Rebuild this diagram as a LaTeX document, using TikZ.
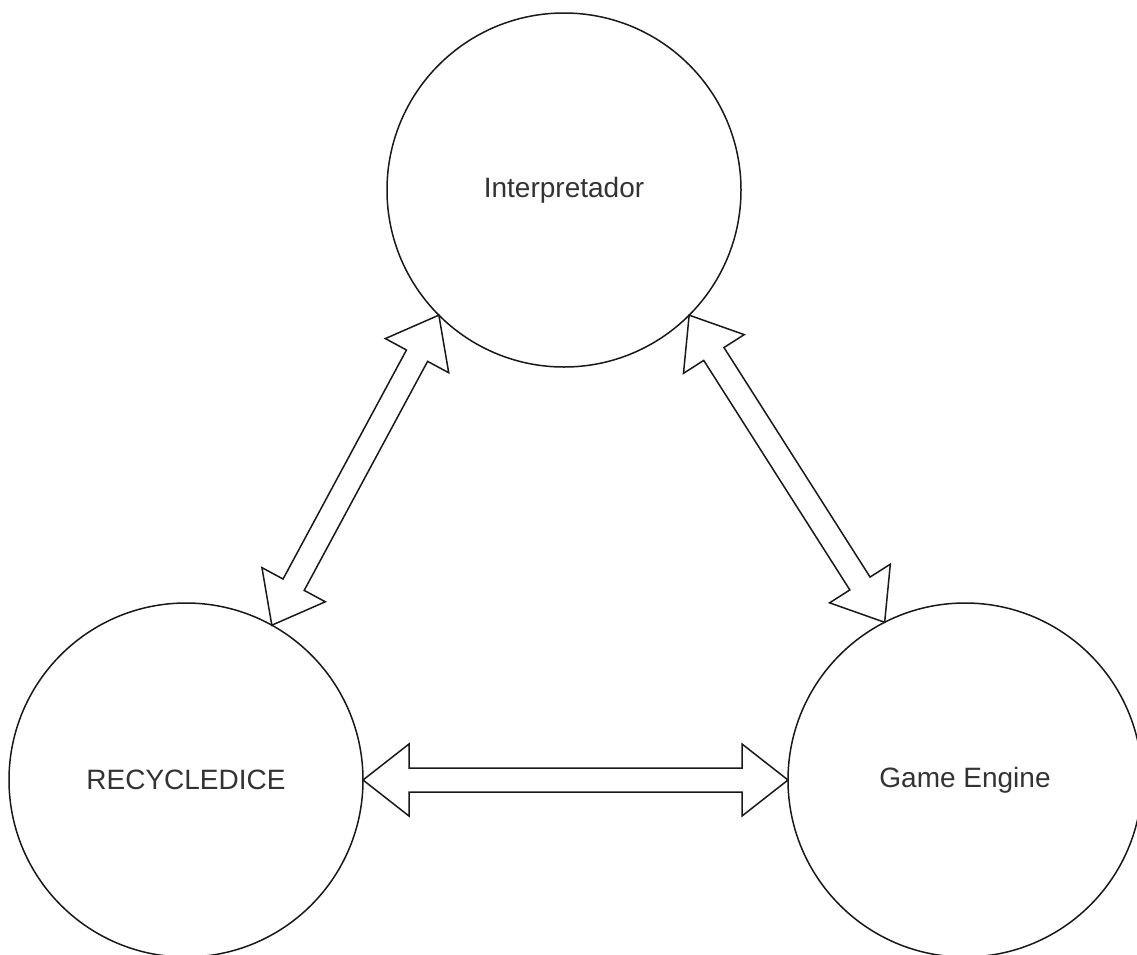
\documentclass[tikz,border=0pt]{standalone}
\usepackage{fontspec}
\setmainfont{Liberation Sans}
\usetikzlibrary{calc}

\tikzset{
  bubble/.style={circle, draw=black!90, line width=1.5pt, minimum size=354pt,
    inner sep=0pt, outer sep=0pt, fill=white,
    font=\fontsize{28}{34}\selectfont, text=black!80},
  flexarrow/.style={draw=black!90, line width=1.5pt, fill=white, line join=miter}
}

% Hollow double-headed block arrow from tip #1 to tip #2
% (head length 46, head half-width 36, shaft half-width 12)
\newcommand\biarrow[2]{%
  \draw[flexarrow] (#1)
    -- ($(#1)!46pt!(#2)!36pt!90:(#2)$)
    -- ($(#1)!46pt!(#2)!12pt!90:(#2)$)
    -- ($(#2)!46pt!(#1)!12pt!-90:(#1)$)
    -- ($(#2)!46pt!(#1)!36pt!-90:(#1)$)
    -- (#2)
    -- ($(#2)!46pt!(#1)!36pt!90:(#1)$)
    -- ($(#2)!46pt!(#1)!12pt!90:(#1)$)
    -- ($(#1)!46pt!(#2)!12pt!-90:(#2)$)
    -- ($(#1)!46pt!(#2)!36pt!-90:(#2)$)
    -- cycle;%
}

\begin{document}
\begin{tikzpicture}[x=1pt, y=-1pt]
  \useasboundingbox (0,0) rectangle (1137,954);
  \clip (0,0) rectangle (1137,954);

  \node[bubble] (interp) at (564,190) {Interpretador};
  \node[bubble] (rec)    at (186,780) {RECYCLEDICE};
  \node[bubble] (game)   at (965,780) {Game Engine};

  \coordinate (ir) at (interp.225);
  \coordinate (ri) at (rec.61.7);
  \coordinate (ig) at (interp.315);
  \coordinate (gi) at (game.117.4);
  \coordinate (rg) at (rec.east);
  \coordinate (gr) at (game.west);

  \biarrow{ri}{ir}
  \biarrow{ig}{gi}
  \biarrow{rg}{gr}
\end{tikzpicture}
\end{document}
